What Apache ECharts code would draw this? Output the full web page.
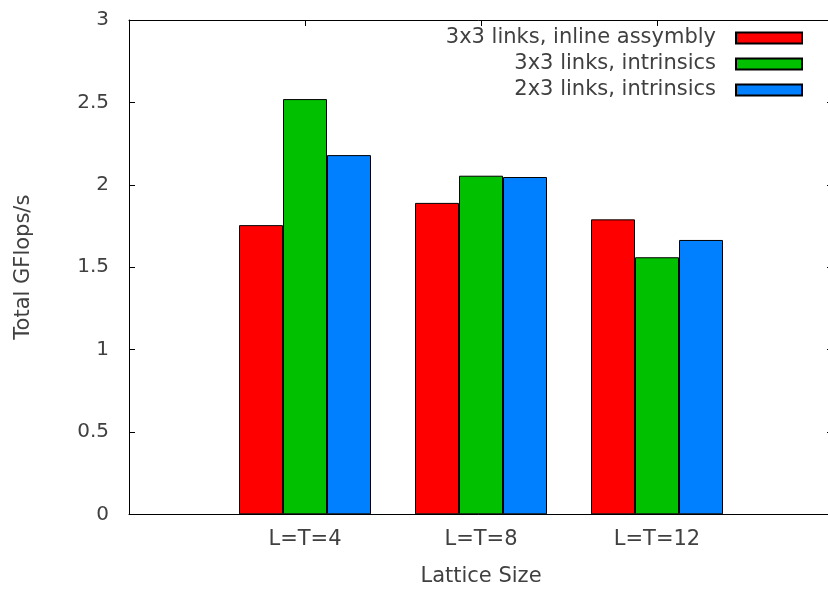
<!DOCTYPE html>
<html>
<head>
<meta charset="utf-8">
<script src="https://cdn.jsdelivr.net/npm/echarts@6/dist/echarts.min.js"></script>
<style>html,body{margin:0;padding:0;background:#fff;}#c{width:828px;height:589px;}</style>
</head>
<body>
<div id="c"></div>
<script>
const categories = ['', 'L=T=4', 'L=T=8', 'L=T=12', ''];
const seriesNames = ['3x3 links, inline assymbly', '3x3 links, intrinsics', '2x3 links, intrinsics'];
const inlineAsm3x3 = ['-', 1.755, 1.89, 1.79, '-'];
const intrinsics3x3 = ['-', 2.52, 2.055, 1.56, '-'];
const intrinsics2x3 = ['-', 2.18, 2.047, 1.665, '-'];
const colors = ['#ff0000', '#00c000', '#0080ff'];
const yMin = 0, yMax = 3, yStep = 0.5;

const FONT = 'DejaVu Sans';
const TXT = '#404040';
const chart = echarts.init(document.getElementById('c'), null, {renderer: 'canvas'});
const mkSeries = (name, data, color) => ({
  name, type: 'bar', data, barWidth: 44, barGap: '0%',
  xAxisIndex: 0, yAxisIndex: 0,
  itemStyle: {color, borderColor: '#000', borderWidth: 1},
  emphasis: {disabled: true}
});
chart.setOption({
  animation: false,
  textStyle: {fontFamily: FONT},
  grid: {left: 129, top: 20, width: 704, height: 494.3, containLabel: false, outerBoundsMode: 'none'},
  legend: {
    orient: 'vertical', align: 'right', right: 25, top: 27.5, padding: 0,
    itemWidth: 66, itemHeight: 11, itemGap: 5, selectedMode: false,
    icon: 'rect',
    textStyle: {fontFamily: FONT, fontSize: 21, color: TXT, lineHeight: 21, padding: [0, 15, 0, 0]},
    data: seriesNames
  },
  xAxis: [{
    type: 'category', data: categories, boundaryGap: false, position: 'bottom',
    axisLine: {onZero: false, lineStyle: {color: '#000', width: 1}},
    axisTick: {show: false},
    axisLabel: {fontFamily: FONT, fontSize: 21, color: TXT, margin: 15, interval: 0},
    name: 'Lattice Size', nameLocation: 'middle', nameGap: 52,
    nameTextStyle: {fontFamily: FONT, fontSize: 21, color: TXT},
    splitLine: {show: false}
  }, {
    type: 'category', data: categories, boundaryGap: false, position: 'top',
    axisLine: {onZero: false, lineStyle: {color: '#000', width: 1}},
    axisTick: {show: true, inside: true, length: 6, interval: 0, lineStyle: {color: '#000'}},
    axisLabel: {show: false}, splitLine: {show: false}
  }],
  yAxis: [{
    type: 'value', min: yMin, max: yMax, interval: yStep, position: 'left',
    axisLine: {show: true, onZero: false, lineStyle: {color: '#000', width: 1}},
    axisTick: {show: true, inside: true, length: 6, lineStyle: {color: '#000'}},
    axisLabel: {fontFamily: FONT, fontSize: 20, color: TXT, margin: 20},
    splitLine: {show: false},
    name: 'Total GFlops/s', nameLocation: 'middle', nameGap: 95,
    nameTextStyle: {fontFamily: FONT, fontSize: 21, color: TXT}
  }, {
    type: 'value', min: yMin, max: yMax, interval: yStep, position: 'right',
    axisLine: {show: true, onZero: false, lineStyle: {color: '#000', width: 1}},
    axisTick: {show: true, inside: true, length: 6, lineStyle: {color: '#000'}},
    axisLabel: {show: false}, splitLine: {show: false}
  }],
  series: [
    mkSeries(seriesNames[0], inlineAsm3x3, colors[0]),
    mkSeries(seriesNames[1], intrinsics3x3, colors[1]),
    mkSeries(seriesNames[2], intrinsics2x3, colors[2])
  ]
});
</script>
</body>
</html>
